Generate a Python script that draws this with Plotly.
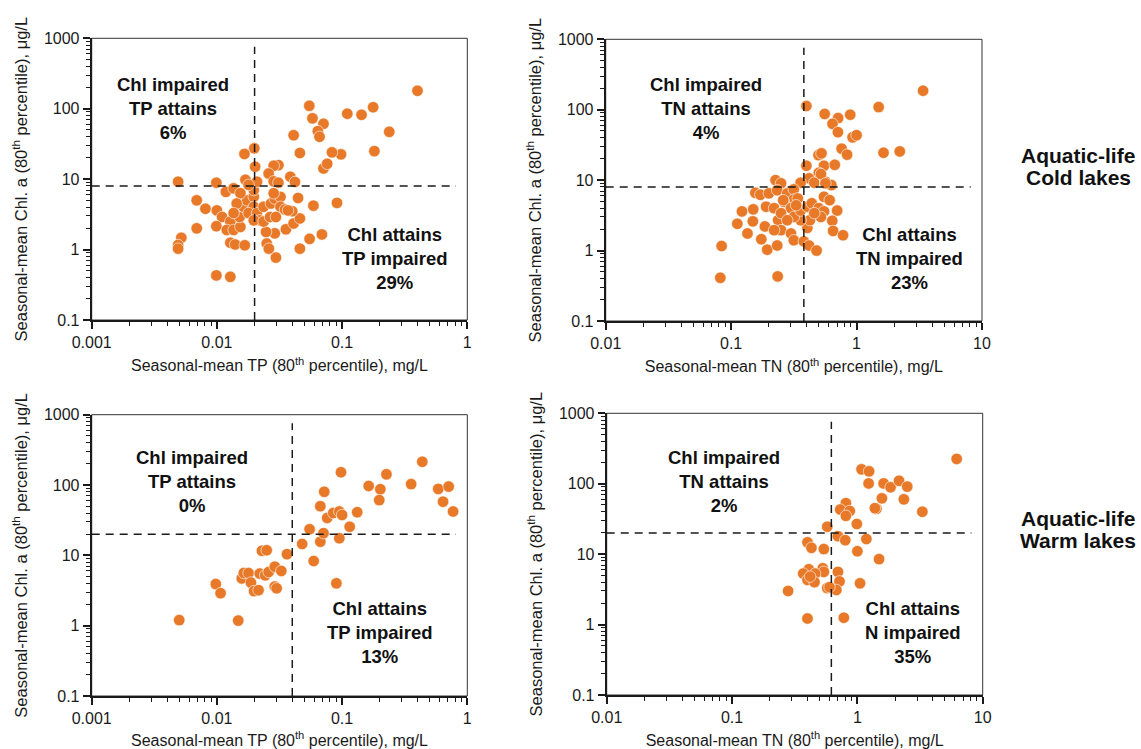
import plotly.graph_objects as go

# ---------------- data ----------------
# Cold lakes: TP (mg/L) vs Chl a (ug/L)
cold_tp = [0.0547, 0.058, 0.071, 0.064, 0.066, 0.041, 0.046, 0.11, 0.143, 0.177, 0.40, 0.238, 0.181,
           0.098, 0.083, 0.071, 0.076, 0.091, 0.059, 0.069, 0.055, 0.046, 0.0296, 0.025, 0.026, 0.029,
           0.0247, 0.0356, 0.041, 0.046, 0.040, 0.0445, 0.0386, 0.042, 0.031, 0.0284, 0.0259, 0.0284,
           0.031, 0.0202, 0.0199, 0.0166, 0.0169, 0.0206, 0.0049, 0.0099, 0.0118, 0.0136, 0.0069, 0.0081,
           0.010, 0.011, 0.0099, 0.0069, 0.0052, 0.0049, 0.0049, 0.0128, 0.0140, 0.0167, 0.0099, 0.0128,
           0.0128, 0.012, 0.0136, 0.0154, 0.0152, 0.0163, 0.0174, 0.0197, 0.0197, 0.0179, 0.0209, 0.0236,
           0.022, 0.0197, 0.0236, 0.0266, 0.027, 0.029, 0.0322, 0.0322, 0.035, 0.0296, 0.0197, 0.0154,
           0.0144, 0.0136, 0.0284, 0.0209, 0.0179, 0.037]
cold_tp_chl = [110, 73, 61, 48, 40, 42, 23.5, 85, 82, 105, 180, 47, 25,
               22.5, 24, 14.2, 16.5, 4.6, 4.2, 1.64, 1.42, 1.03, 0.77, 1.22, 1.03, 1.7,
               1.78, 1.94, 2.35, 2.77, 3.5, 5.4, 10.8, 9.1, 15.8, 15.5, 12.0, 9.3,
               8.9, 15, 27.4, 22.8, 9.8, 8.9, 9.2, 8.9, 6.6, 7.4, 5.0, 3.8,
               3.6, 2.9, 2.15, 2.0, 1.47, 1.16, 1.03, 1.25, 1.18, 1.15, 0.43, 0.41,
               2.5, 1.9, 1.9, 2.1, 2.9, 4.05, 5.0, 5.6, 4.05, 3.3, 3.3, 4.05,
               2.6, 2.6, 2.5, 2.9, 4.5, 5.3, 5.6, 4.05, 3.7, 2.9, 7.0, 6.3,
               4.5, 3.3, 6.3, 9.2, 8.3, 3.6]

# Cold lakes: TN (mg/L) vs Chl a (ug/L)
cold_tn = [0.398, 3.39, 1.5, 0.557, 0.713, 0.89, 0.643, 0.71, 0.93, 1.0, 1.64, 2.21, 0.76, 0.84,
           0.497, 0.525, 0.398, 0.55, 0.67, 0.50, 0.418, 0.358, 0.46, 0.565, 0.63, 0.226, 0.25,
           0.156, 0.171, 0.20, 0.233, 0.28, 0.316, 0.316, 0.264, 0.30, 0.19, 0.22, 0.15, 0.122,
           0.149, 0.112, 0.135, 0.186, 0.174, 0.194, 0.233, 0.237, 0.25, 0.30, 0.316, 0.38, 0.418,
           0.48, 0.405, 0.425, 0.358, 0.316, 0.358, 0.405, 0.44, 0.50, 0.55, 0.52, 0.55, 0.61,
           0.70, 0.64, 0.65, 0.78, 0.084, 0.082, 0.235, 0.34, 0.25, 0.28, 0.22, 0.33, 0.26, 0.46,
           0.52, 0.565]
cold_tn_chl = [113, 186, 109, 87, 76, 85, 63, 48, 40.5, 43.5, 24.5, 25.6, 28, 23,
               22.7, 24, 16, 16, 16.5, 12.7, 10.6, 9.2, 9.2, 9.5, 8.5, 10, 9.0,
               6.6, 6.2, 6.5, 7.2, 6.5, 7.4, 5.3, 4.9, 4.0, 4.2, 4.0, 3.85, 3.6,
               2.6, 2.4, 1.75, 2.2, 1.45, 1.03, 1.18, 2.7, 1.95, 1.75, 1.4, 1.35, 1.18,
               1.0, 2.1, 2.7, 2.7, 3.0, 3.7, 4.2, 4.7, 4.0, 3.6, 3.0, 5.8, 5.2,
               3.7, 2.65, 1.9, 1.65, 1.16, 0.41, 0.43, 5.5, 3.4, 2.7, 1.95, 4.4, 5.2, 3.4,
               12.2, 9.0]

# Warm lakes: TP (mg/L) vs Chl a (ug/L)
warm_tp = [0.005, 0.0148, 0.0098, 0.0107, 0.0158, 0.0164, 0.0179, 0.0187, 0.0198, 0.0215, 0.022,
           0.0243, 0.0259, 0.029, 0.0327, 0.029, 0.030, 0.0229, 0.025, 0.0363, 0.048, 0.055,
           0.0593, 0.067, 0.071, 0.067, 0.072, 0.076, 0.085, 0.095, 0.1, 0.095, 0.09, 0.098,
           0.115, 0.132, 0.163, 0.202, 0.198, 0.226, 0.356, 0.437, 0.586, 0.71, 0.64, 0.77]
warm_tp_chl = [1.2, 1.18, 3.9, 2.9, 4.7, 5.6, 5.6, 4.1, 3.1, 3.2, 5.5,
               5.2, 5.8, 6.9, 6.0, 3.6, 3.4, 11.6, 11.8, 10.4, 14.5, 23.5,
               8.3, 15.6, 20.7, 50, 80, 34, 40, 42, 37.5, 17.5, 4.0, 152,
               25.5, 41, 97, 87, 61, 142, 103, 214, 88, 95, 58, 42]

# Warm lakes: TN (mg/L) vs Chl a (ug/L)
warm_tn = [0.28, 0.40, 0.78, 0.40, 0.43, 0.54, 0.575, 0.70, 0.80, 0.99, 1.0, 1.18, 1.49, 1.05,
           0.70, 0.72, 0.68, 0.575, 0.60, 0.53, 0.54, 0.41, 0.37, 0.40, 0.46, 0.455, 0.42,
           6.2, 1.08, 1.24, 1.23, 1.62, 1.84, 2.15, 2.5, 2.35, 1.57, 1.42, 3.3, 0.81, 0.73,
           0.87, 0.81, 1.38]
warm_tn_chl = [3.0, 1.22, 1.25, 14.7, 12.3, 11.8, 24.5, 18, 15.8, 26.8, 11, 16.4, 8.5, 3.85,
               5.6, 4.1, 3.1, 3.3, 3.4, 6.3, 5.6, 6.1, 5.3, 4.3, 5.3, 4.0, 4.8,
               225, 160, 150, 101, 101, 89, 110, 91, 60, 62, 44, 40, 53, 43,
               41, 35, 45]

# thresholds (criteria)
cold_tp_thr, cold_tn_thr, cold_chl_thr = 0.02, 0.38, 8.0
warm_tp_thr, warm_tn_thr, warm_chl_thr = 0.04, 0.62, 20.0

x_tp_ticks = [0.001, 0.01, 0.1, 1]
x_tp_text = ["0.001", "0.01", "0.1", "1"]
x_tn_ticks = [0.01, 0.1, 1, 10]
x_tn_text = ["0.01", "0.1", "1", "10"]
y_ticks = [0.1, 1, 10, 100, 1000]
y_text = ["0.1", "1", "10", "100", "1000"]

quad_labels = [
    "Chl impaired<br>TP attains<br>6%", "Chl attains<br>TP impaired<br>29%",
    "Chl impaired<br>TN attains<br>4%", "Chl attains<br>TN impaired<br>23%",
    "Chl impaired<br>TP attains<br>0%", "Chl attains<br>TP impaired<br>13%",
    "Chl impaired<br>TN attains<br>2%", "Chl attains<br>N impaired<br>35%",
]
row_labels = [["Aquatic-life", "Cold lakes"], ["Aquatic-life", "Warm lakes"]]

xtitle_tp = "Seasonal-mean TP (80<sup>th</sup> percentile), mg/L"
xtitle_tn = "Seasonal-mean TN (80<sup>th</sup> percentile), mg/L"
ytitle = "Seasonal-mean Chl. a (80<sup>th</sup> percentile), μg/L"

# ---------------- layout ----------------
W, H = 1141, 749
FONT = "Liberation Sans, Arial, Helvetica, sans-serif"
ORANGE = "rgb(231,121,41)"
TXT = "#1a1a1a"

panels = [
    (cold_tp, cold_tp_chl, cold_tp_thr, cold_chl_thr, (91.7, 467.3), (38.3, 320.0), [-3, 0], x_tp_ticks, x_tp_text, xtitle_tp),
    (cold_tn, cold_tn_chl, cold_tn_thr, cold_chl_thr, (605.7, 982.0), (39.3, 321.0), [-2, 1], x_tn_ticks, x_tn_text, xtitle_tn),
    (warm_tp, warm_tp_chl, warm_tp_thr, warm_chl_thr, (91.7, 467.3), (414.7, 696.0), [-3, 0], x_tp_ticks, x_tp_text, xtitle_tp),
    (warm_tn, warm_tn_chl, warm_tn_thr, warm_chl_thr, (606.7, 982.7), (413.3, 695.0), [-2, 1], x_tn_ticks, x_tn_text, xtitle_tn),
]

fig = go.Figure()
layout = dict(
    width=W, height=H, autosize=False,
    margin=dict(l=0, r=0, t=0, b=0),
    paper_bgcolor="white", plot_bgcolor="white",
    showlegend=False,
    font=dict(family=FONT, size=16, color=TXT),
)
shapes = []
for i, (xd, yd, xt, yt, xdom, ydom, xr, xtv, xtt, xtitle) in enumerate(panels):
    n = "" if i == 0 else str(i + 1)
    fig.add_trace(go.Scatter(
        x=xd, y=yd, mode="markers", xaxis="x" + n, yaxis="y" + n,
        marker=dict(size=11.5, color=ORANGE, line=dict(width=0.6, color="white")),
        hoverinfo="x+y",
    ))
    axcommon = dict(
        type="log", showgrid=False, zeroline=False,
        showline=True, linewidth=2, linecolor=TXT,
        ticks="outside", ticklen=7, tickwidth=1.5, tickcolor=TXT,
        tickfont=dict(family=FONT, size=16, color=TXT),
        minor=dict(ticks="outside", ticklen=4, tickwidth=1.2, tickcolor=TXT, dtick="D1", showgrid=False),
        automargin=False, fixedrange=True,
    )
    layout["xaxis" + n] = dict(
        axcommon, anchor="y" + n,
        domain=[xdom[0] / W, xdom[1] / W], range=xr,
        tickmode="array", tickvals=xtv, ticktext=xtt,
        title=dict(text=xtitle, standoff=10, font=dict(family=FONT, size=16, color=TXT)),
    )
    layout["yaxis" + n] = dict(
        axcommon, anchor="x" + n,
        domain=[1 - ydom[1] / H, 1 - ydom[0] / H], range=[-1, 3],
        tickmode="array", tickvals=y_ticks, ticktext=y_text,
        title=dict(text=ytitle, standoff=12, font=dict(family=FONT, size=16.5, color=TXT)),
    )
    xa = "x" + n
    ya = "y" + n
    shapes.append(dict(type="rect", xref=xa + " domain", yref=ya + " domain",
                       x0=0, x1=1, y0=0, y1=1, line=dict(color="#333", width=1), layer="below"))
    shapes.append(dict(type="line", xref=xa, yref=ya + " domain", x0=xt, x1=xt, y0=0, y1=0.97,
                       line=dict(color=TXT, width=1.5, dash="8px,6px")))
    shapes.append(dict(type="line", xref=xa + " domain", yref=ya, x0=0, x1=0.97, y0=yt, y1=yt,
                       line=dict(color=TXT, width=1.5, dash="8px,6px")))
layout["shapes"] = shapes

quad_pos = [(173, 109), (395, 259), (706, 109), (909, 259),
            (192, 482), (380, 632), (724, 482), (913, 632)]
annotations = []
for txt, (px, py) in zip(quad_labels, quad_pos):
    annotations.append(dict(text="<b>" + txt + "</b>", x=px / W, y=1 - py / H, xref="paper", yref="paper",
                            xanchor="center", yanchor="middle", showarrow=False, align="center",
                            font=dict(family=FONT, size=18.5, color="#111")))
row_pos = [(1078, 155.5, 177.5), (1078, 518.5, 540.5)]
for lines, (px, py1, py2) in zip(row_labels, row_pos):
    for txt, py in zip(lines, (py1, py2)):
        annotations.append(dict(text="<b>" + txt + "</b>", x=px / W, y=1 - py / H, xref="paper", yref="paper",
                                xanchor="center", yanchor="middle", showarrow=False,
                                font=dict(family=FONT, size=21, color="#111")))
layout["annotations"] = annotations

fig.update_layout(**layout)
fig.write_html("out.html")
